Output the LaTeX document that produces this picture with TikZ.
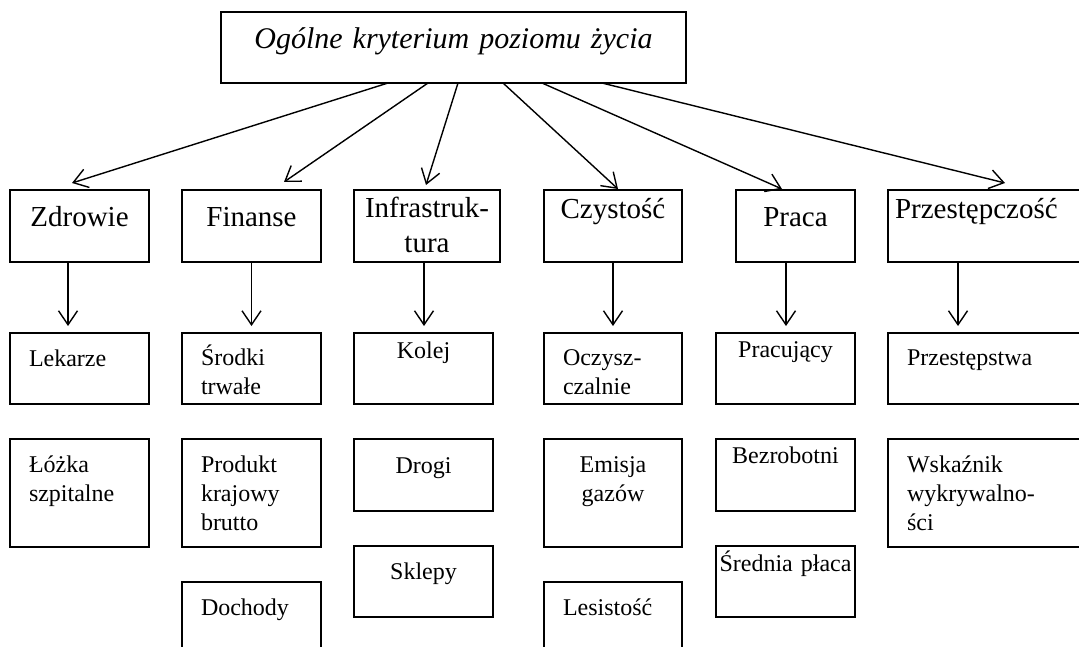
\documentclass[tikz,border=0pt]{standalone}
\usepackage{fontspec}
\setmainfont{Liberation Serif}
\usetikzlibrary{positioning,arrows.meta}

\tikzstyle{title} = [rectangle, draw, line width=1.9pt, inner sep=0pt, outer sep=0pt,
    text width=465pt, align=center, font=\fontsize{30}{36}\selectfont\itshape,
    text height=37pt, text depth=34pt]
\tikzstyle{group} = [rectangle, draw, line width=1.9pt, inner sep=0pt, outer sep=0pt,
    text width=139pt, align=center, font=\fontsize{29}{35}\selectfont,
    text height=37pt, text depth=35pt]
\tikzstyle{grouptop} = [group, text height=29pt, text depth=43pt]
\tikzstyle{item} = [rectangle, draw, line width=1.9pt, inner xsep=19pt, inner ysep=0pt, outer sep=0pt,
    text width=101pt, align=left, font=\fontsize{24}{29}\selectfont,
    text height=33pt, text depth=38pt]
\tikzstyle{itemc} = [item, inner xsep=0pt, text width=139pt, align=center]
\tikzstyle{tall} = [text depth=75pt]
\tikzstyle{line} = [draw, line width=1.4pt, -{Straight Barb[length=14pt, width=19pt]}]

\begin{document}
\begin{tikzpicture}[node distance=35pt, x=1pt, y=-1pt]
\useasboundingbox (0,0) rectangle (1079,647);
\clip (0,0) rectangle (1079,647);

\node (Title) [title] at (453.5,47.5) {Ogólne kryterium poziomu życia};

%Groups
\node (Zdrowie) [group] at (79.5,226) {Zdrowie};
\node (Finanse) [group, right=33pt of Zdrowie] {Finanse};
\node (Infrastruktura) [group, right=33pt of Finanse, text width=146pt,
    text height=28pt, text depth=44pt] {Infrastruk-\\tura};
\node (Czystosc) [grouptop, right=44pt of Infrastruktura, text width=138pt] {Czystość};
\node (Praca) [group, right=54pt of Czystosc, text width=119pt] {Praca};
\node (Przestepczosc) [grouptop, right=33pt of Praca, inner xsep=7pt, text width=188pt,
    align=left] {Przestępczość};

%Zdrowie
\node (Lekarze) [item, below=71pt of Zdrowie] {Lekarze};
\node (Lozka) [item, tall, below=of Lekarze] {Łóżka\\szpitalne};

%Finanse
\node (Srodki) [item, below=71pt of Finanse, text height=32pt, text depth=39pt] {Środki\\trwałe};
\node (Produkt) [item, tall, below=of Srodki] {Produkt\\krajowy\\brutto};
\node (Dochody) [item, tall, below=of Produkt] {Dochody};

%Infrastruktura
\node (Kolej) [itemc, below=71pt of Infrastruktura, xshift=-3.5pt,
    text height=25pt, text depth=46pt] {Kolej};
\node (Drogi) [itemc, below=of Kolej, text height=34pt, text depth=38pt] {Drogi};
\node (Sklepy) [itemc, below=of Drogi] {Sklepy};

%Czystosc
\node (Oczyszczalnie) [item, below=71pt of Czystosc, text width=100pt,
    text height=32pt, text depth=39pt] {Oczysz-\\czalnie};
\node (Emisja) [itemc, tall, below=of Oczyszczalnie, text width=138pt] {Emisja\\gazów};
\node (Lesistosc) [item, tall, below=of Emisja, text width=100pt] {Lesistość};

%Praca
\node (Pracujacy) [itemc, below=71pt of Praca, xshift=-10pt,
    text height=24pt, text depth=47pt] {Pracujący};
\node (Bezrobotni) [itemc, below=of Pracujacy, text height=24pt, text depth=48pt] {Bezrobotni};
\node (Srednia) [itemc, below=of Bezrobotni, text height=25pt, text depth=46pt] {Średnia płaca};

%Przestepczosc
\node (Przestepstwa) [item, below=71pt of Przestepczosc, text width=164pt,
    text height=32pt, text depth=39pt] {Przestępstwa};
\node (Wskaznik) [item, tall, below=of Przestepstwa, text width=164pt] {Wskaźnik\\wykrywalno-\\ści};

%Above
\path [line]([xshift=167pt]Title.south west)--([xshift=-7.5pt,yshift=7pt]Zdrowie.north);
\path [line]([xshift=207pt]Title.south west)--([xshift=32.5pt,yshift=8pt]Finanse.north);
\path [line]([xshift=237pt]Title.south west)--([xshift=-1pt,yshift=5pt]Infrastruktura.north);
\path [line]([xshift=282pt]Title.south west)--([xshift=5pt,yshift=1pt]Czystosc.north);
\path [line]([xshift=321pt]Title.south west)--([xshift=-13.5pt,yshift=1pt]Praca.north);
\path [line]([xshift=381pt]Title.south west)--([xshift=16pt,yshift=7pt]Przestepczosc.north);

%Below
\path [line]([xshift=-11.5pt]Zdrowie.south)--([xshift=-11.5pt,yshift=7pt]Lekarze.north);
\path [line](Finanse.south)--([yshift=7pt]Srodki.north);
\path [line]([xshift=-3pt]Infrastruktura.south)--([xshift=0.5pt,yshift=7pt]Kolej.north);
\path [line](Czystosc.south)--([yshift=7pt]Oczyszczalnie.north);
\path [line]([xshift=-9.5pt]Praca.south)--([xshift=0.5pt,yshift=7pt]Pracujacy.north);
\path [line]([xshift=-31pt]Przestepczosc.south)--([xshift=-31pt,yshift=7pt]Przestepstwa.north);

\end{tikzpicture}
\end{document}
